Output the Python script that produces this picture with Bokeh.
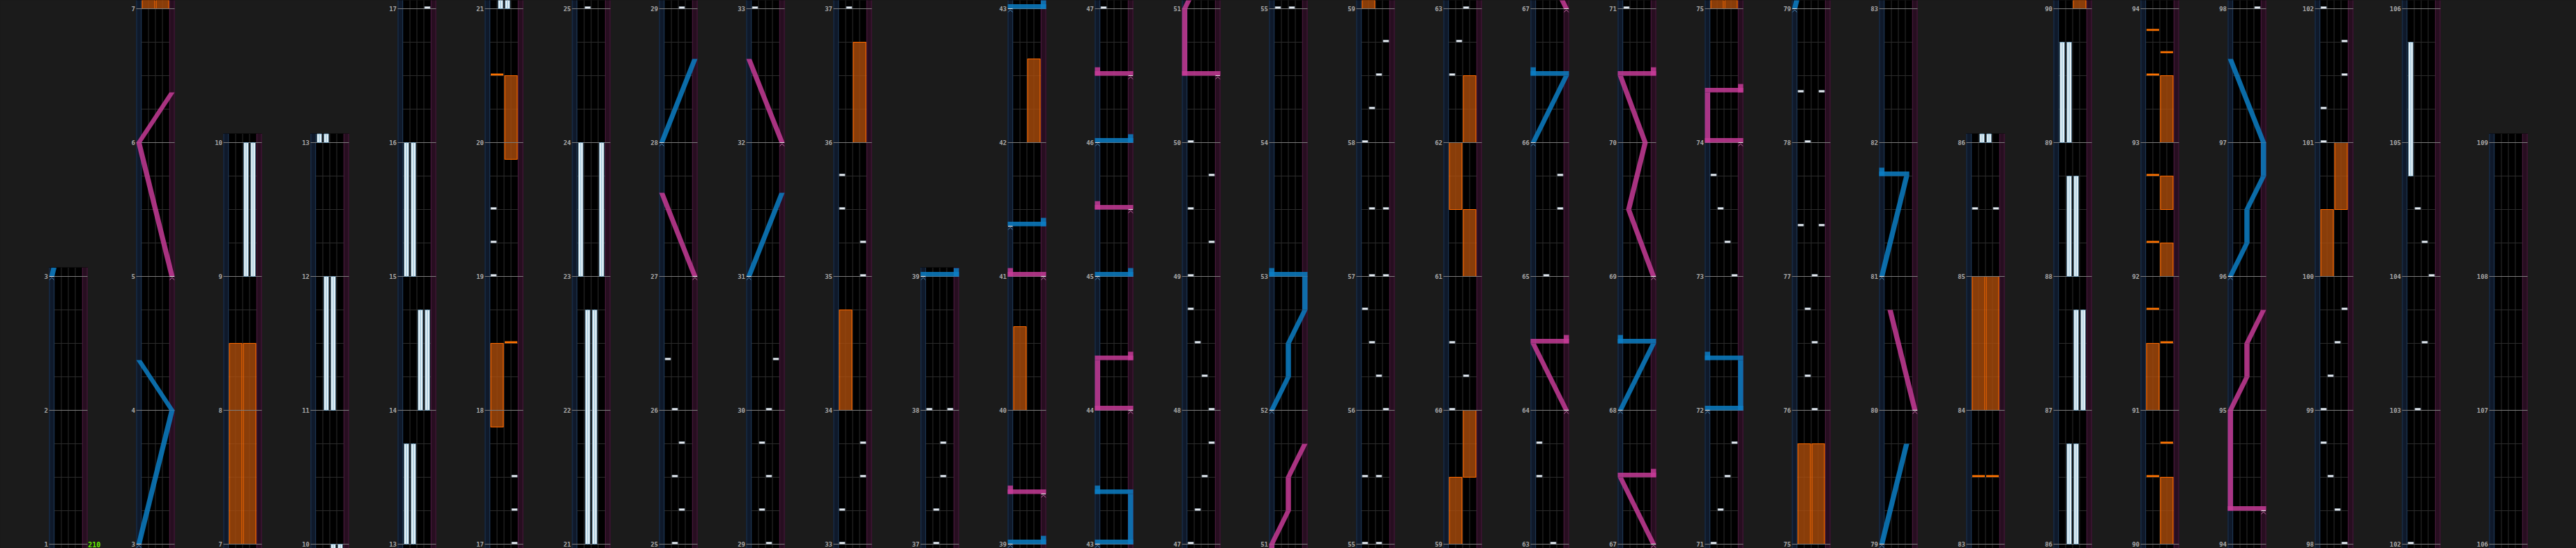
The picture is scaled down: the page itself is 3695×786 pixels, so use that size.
from bokeh.plotting import figure
from bokeh.models import Range1d, GlobalInlineStyleSheet
from bokeh.embed import file_html
from bokeh.resources import INLINE
from bokeh.core.properties import value

# ------------------------------------------------------------------ data
# first measure shown in each column of the chart (columns read left to right)
COLUMN_FIRST_MEASURE = [1, 3, 7, 10, 13, 17, 21, 25, 29, 33, 37, 39, 43, 47, 51, 55,
                        59, 63, 67, 71, 75, 79, 83, 86, 90, 94, 98, 102, 106]
LAST_MEASURE = 108

BPM_T = [1]
BPM_TEXT = ["210"]

# BT chips: (time in measures, lane)
BT_CHIPS = [
    (17, "D"), (17.25, "D"), (17.5, "D"),
    (19, "A"), (19.25, "A"), (19.5, "A"),
    (25, "B"), (25.25, "C"), (25.5, "B"), (25.75, "C"), (26, "B"), (26.375, "A"),
    (29, "C"), (29.25, "B"), (29.5, "C"), (29.75, "B"), (30, "C"), (30.375, "D"),
    (33, "A"), (33.25, "A"), (33.5, "D"), (33.75, "D"),
    (35, "D"), (35.25, "D"), (35.5, "A"), (35.75, "A"),
    (37, "B"), (37.25, "B"), (37.5, "C"), (37.75, "C"), (38, "A"), (38, "D"),
    (47, "A"), (47.25, "B"), (47.5, "C"), (47.75, "D"), (48, "D"), (48.25, "C"),
    (48.5, "B"), (48.75, "A"), (49, "A"), (49.25, "D"), (49.5, "A"), (49.75, "D"), (50, "A"),
    (55, "A"), (55, "C"), (55.5, "A"), (55.5, "C"),
    (56, "D"), (56.25, "C"), (56.5, "B"), (56.75, "A"),
    (57, "B"), (57, "D"), (57.5, "B"), (57.5, "D"),
    (58, "A"), (58.25, "B"), (58.5, "C"), (58.75, "D"),
    (60, "A"), (60.25, "C"), (60.5, "A"),
    (62.5, "A"), (62.75, "B"), (63, "C"), (63.5, "A"), (63.75, "A"),
    (65, "B"), (65.5, "D"), (65.75, "D"),
    (71, "A"), (71.25, "B"), (71.5, "C"), (71.75, "D"),
    (73, "D"), (73.25, "C"), (73.5, "B"), (73.75, "A"),
    (76, "C"), (76.25, "B"), (76.5, "C"), (76.75, "B"), (77, "C"),
    (77.375, "A"), (77.375, "D"), (78, "B"), (78.375, "A"), (78.375, "D"),
    (85.5, "A"), (85.5, "D"),
    (98, "D"), (98.25, "C"), (98.5, "B"), (98.75, "A"), (99, "A"), (99.25, "B"),
    (99.5, "C"), (99.75, "D"),
    (101, "A"), (101.25, "A"), (101.5, "D"), (101.75, "D"), (102, "A"),
    (103, "B"), (103.5, "C"), (104, "D"), (104.25, "C"), (104.5, "B"),
]

# BT holds: (start, end, lane)
BT_HOLDS = [
    (9, 10, "C"), (9, 10, "D"),
    (11, 12, "B"), (11, 12, "C"),
    (13, 13.75, "A"), (13, 13.75, "B"),
    (14, 14.75, "C"), (14, 14.75, "D"),
    (15, 16, "A"), (15, 16, "B"),
    (21, 22.75, "B"), (21, 22.75, "C"),
    (23, 24, "A"), (23, 24, "D"),
    (86, 86.75, "B"), (86, 86.75, "C"),
    (87, 87.75, "C"), (87, 87.75, "D"),
    (88, 88.75, "B"), (88, 88.75, "C"),
    (89, 89.75, "A"), (89, 89.75, "B"),
    (104.75, 105.75, "A"),
]

# FX chips: (time, side)
FX_CHIPS = [
    (18.5, "R"), (20.5, "L"), (83.5, "L"), (83.5, "R"),
    (90.5, "L"), (90.75, "R"), (91.5, "R"), (91.75, "L"), (92.25, "L"), (92.75, "L"),
    (93.5, "L"), (93 + 2 / 3, "R"), (93 + 5 / 6, "L"),
]

# FX holds: (start, end, side)
FX_HOLDS = [
    (7, 8.5, "L"), (7, 8.5, "R"),
    (17.875, 18.5, "L"), (19.875, 20.5, "R"),
    (34, 34.75, "L"), (36, 36.75, "R"),
    (40, 40.625, "L"), (42, 42.625, "R"),
    (59, 59.5, "L"), (59.5, 60, "R"), (61, 61.5, "R"), (61.5, 62, "L"), (62, 62.5, "R"),
    (75, 75.75, "L"), (75, 75.75, "R"),
    (84, 85, "L"), (84, 85, "R"),
    (90, 90.5, "R"), (91, 91.5, "L"), (92, 92.25, "R"), (92.5, 92.75, "R"), (93, 93.5, "R"),
    (100, 100.5, "L"), (100.5, 101, "R"),
]

# lasers: lists of (time, position 0..1); equal times = slam
LASER_LEFT = [
    [(3, 0), (4, 1), (4.375, 0)],
    [(28, 0), (28.625, 1)],
    [(31, 0), (31.625, 1)],
    [(39, 0), (39, 1)],
    [(41.375, 0), (41.375, 1)],
    [(43, 0), (43, 1), (43.375, 1), (43.375, 0)],
    [(45, 0), (45, 1)],
    [(46, 0), (46, 1)],
    [(52, 0), (52.25, 0.5), (52.5, 0.5), (52.75, 1), (53, 1), (53, 0)],
    [(66, 0), (66.5, 1), (66.5, 0)],
    [(68, 0), (68.5, 1), (68.5, 0)],
    [(72, 0), (72, 1), (72.375, 1), (72.375, 0)],
    [(79, 0), (79.75, 0.75)],
    [(81, 0), (81.75, 0.75), (81.75, 0)],
    [(96, 0), (96.25, 0.5), (96.5, 0.5), (96.75, 1), (97, 1), (97.625, 0)],
]
LASER_RIGHT = [
    [(5, 1), (6, 0), (6.375, 1)],
    [(27, 1), (27.625, 0)],
    [(32, 1), (32.625, 0)],
    [(39.375, 1), (39.375, 0)],
    [(41, 1), (41, 0)],
    [(44, 1), (44, 0), (44.375, 0), (44.375, 1)],
    [(45.5, 1), (45.5, 0)],
    [(46.5, 1), (46.5, 0)],
    [(50.5, 1), (50.5, 0), (51, 0), (51.25, 0.5), (51.5, 0.5), (51.75, 1)],
    [(64, 1), (64.5, 0), (64.5, 1)],
    [(67, 1), (67.5, 0), (67.5, 1)],
    [(69, 1), (69.5, 0.25), (70, 0.75), (70.5, 0), (70.5, 1)],
    [(74, 1), (74, 0), (74.375, 0), (74.375, 1)],
    [(80, 1), (80.75, 0.25)],
    [(94.25, 1), (94.25, 0), (95, 0), (95.25, 0.5), (95.5, 0.5), (95.75, 1)],
]

# ------------------------------------------------------------------ style / layout
BG = "#1b1b1b"
PX = 1.0 / 192            # one screen pixel in measure units (vertical)
COL_X0, COL_STEP, COL_W = 70, 125, 55
LASER_W, LANE_W = 7.5, 10.0
HW = LASER_W / 2
EXT = 12.5 * PX
LANES = "ABCD"
W, H = 3695, 786
Y_LO, Y_HI = -6 * PX, 780 * PX     # visible range (measures above column bottom)

p = figure(width=W, height=H,
           x_range=Range1d(0, W),
           y_range=Range1d(Y_LO, Y_HI),
           x_axis_type=None, y_axis_type=None,
           output_backend="svg", toolbar_location=None, min_border=0,
           background_fill_color=BG, border_fill_color=BG, outline_line_color=None)
p.stylesheets = [GlobalInlineStyleSheet(
    css="html, body { margin: 0; padding: 0; overflow: hidden; background-color: #1b1b1b; }")]

cols = []
for k, b in enumerate(COLUMN_FIRST_MEASURE):
    top = COLUMN_FIRST_MEASURE[k + 1] if k + 1 < len(COLUMN_FIRST_MEASURE) else LAST_MEASURE + 1
    L = COL_X0 + COL_STEP * k
    cols.append((b, top, L, b - 10 * PX, top + EXT))


def lane_left(L, lane):
    return L + LASER_W + LANE_W * LANES.index(lane)


def lx(L, pos):
    return L + HW + pos * (COL_W - LASER_W)


def label_y(y, ascent, descent):
    # keep a label's whole text box inside the frame
    return min(max(y, Y_LO + (descent + 1) * PX), Y_HI - (ascent + 1) * PX)


# ---- column backgrounds
bgq = dict(left=[], right=[], bottom=[], top=[], color=[])
vseg = dict(x0=[], y0=[], x1=[], y1=[], color=[])
beat = dict(x0=[], y0=[], x1=[], y1=[])
meas = dict(x0=[], y0=[], x1=[], y1=[])
lab = dict(x=[], y=[], text=[])
for (b, top, L, tmin, tmax) in cols:
    ttop = top - b + EXT
    for l, r, c in [(L, L + COL_W, "#000000"), (L, L + LASER_W, "#0f192a"),
                    (L + COL_W - LASER_W, L + COL_W, "#270e20")]:
        bgq["left"].append(l); bgq["right"].append(r)
        bgq["bottom"].append(-10 * PX); bgq["top"].append(ttop); bgq["color"].append(c)
    for x, c in [(L + 0.5, "#1c3550"), (L + LASER_W - 0.5, "#1c3550"),
                 (L + COL_W - LASER_W + 0.5, "#46183a"), (L + COL_W - 0.5, "#46183a"),
                 (L + LASER_W + LANE_W, "#2c2c2c"), (L + LASER_W + 2 * LANE_W, "#2c2c2c"),
                 (L + LASER_W + 3 * LANE_W, "#2c2c2c")]:
        vseg["x0"].append(x); vseg["x1"].append(x)
        vseg["y0"].append(-10 * PX); vseg["y1"].append(ttop); vseg["color"].append(c)
    for m in range(b, top):
        for q in (0.25, 0.5, 0.75):
            beat["x0"].append(L + LASER_W); beat["x1"].append(L + COL_W - LASER_W)
            beat["y0"].append(m - b + q); beat["y1"].append(m - b + q)
    for m in range(b, top + 1):
        meas["x0"].append(L); meas["x1"].append(L + COL_W)
        meas["y0"].append(m - b); meas["y1"].append(m - b)
        lab["x"].append(L - 1.5); lab["y"].append(label_y(m - b, 9, 2.5))
        lab["text"].append(str(m))

p.quad(left="left", right="right", bottom="bottom", top="top", color="color", source=bgq)
p.segment(x0="x0", y0="y0", x1="x1", y1="y1", line_color="color", line_width=1, source=vseg)
p.segment(x0="x0", y0="y0", x1="x1", y1="y1", line_color="#2c2c2c", line_width=1, source=beat)


def clip(t0, t1, c):
    b, top, L, tmin, tmax = c
    lo, hi = max(t0, tmin), min(t1, tmax)
    return (lo - b, hi - b) if hi > lo else None


# ---- FX holds
fxh = dict(left=[], right=[], bottom=[], top=[])
for t0, t1, side in FX_HOLDS:
    for c in cols:
        r = clip(t0, t1, c)
        if r:
            L = c[2]
            x0 = L + LASER_W + (0 if side == "L" else 2 * LANE_W)
            fxh["left"].append(x0 + 1); fxh["right"].append(x0 + 2 * LANE_W - 1)
            fxh["bottom"].append(r[0]); fxh["top"].append(r[1])
p.quad(left="left", right="right", bottom="bottom", top="top", source=fxh,
       fill_color="#b04e0c", fill_alpha=0.78, line_color="#ff6a00", line_width=1.2)

p.segment(x0="x0", y0="y0", x1="x1", y1="y1", line_color="#7c7c7c", line_width=1, source=meas)

# ---- BT holds
bth = dict(left=[], right=[], bottom=[], top=[])
bts = dict(left=[], right=[], bottom=[], top=[])
for t0, t1, lane in BT_HOLDS:
    for c in cols:
        r = clip(t0, t1, c)
        if r:
            x0 = lane_left(c[2], lane)
            bth["left"].append(x0 + 1.7); bth["right"].append(x0 + LANE_W - 1.7)
            bth["bottom"].append(r[0]); bth["top"].append(r[1])
            xc = x0 + LANE_W / 2
            bts["left"].append(xc - 0.8); bts["right"].append(xc + 0.8)
            bts["bottom"].append(r[0]); bts["top"].append(r[1])
p.quad(left="left", right="right", bottom="bottom", top="top", source=bth,
       fill_color="#eef8fc", line_color="#5d8cab", line_width=0.9)
p.quad(left="left", right="right", bottom="bottom", top="top", source=bts,
       fill_color="#a4c9dc", line_color=None)

# ---- chips
btc = dict(left=[], right=[], bottom=[], top=[])
for t, lane in BT_CHIPS:
    for c in cols:
        b, top, L, tmin, tmax = c
        if tmin <= t <= tmax:
            x0 = lane_left(L, lane)
            btc["left"].append(x0 + 1); btc["right"].append(x0 + LANE_W - 1)
            btc["bottom"].append(t - b + 0.3 * PX); btc["top"].append(t - b + 3 * PX)
p.quad(left="left", right="right", bottom="bottom", top="top", source=btc,
       fill_color="#f4f6f8", line_color="#8d9cab", line_width=0.8)

fxc = dict(left=[], right=[], bottom=[], top=[])
for t, side in FX_CHIPS:
    for c in cols:
        b, top, L, tmin, tmax = c
        if tmin <= t <= tmax:
            x0 = L + LASER_W + (0 if side == "L" else 2 * LANE_W)
            fxc["left"].append(x0 + 1); fxc["right"].append(x0 + 2 * LANE_W - 1)
            fxc["bottom"].append(t - b + 0.2 * PX); fxc["top"].append(t - b + 3 * PX)
p.quad(left="left", right="right", bottom="bottom", top="top", source=fxc,
       fill_color="#ff7300", line_color=None)


# ---- lasers
def draw_lasers(lasers, color, mark_color):
    ribbons_x, ribbons_y = [], []
    bars = dict(left=[], right=[], bottom=[], top=[])
    marks_x, marks_y, starts = [], [], dict(x0=[], y0=[], x1=[], y1=[])
    for pts in lasers:
        for c in cols:
            b, top, L, tmin, tmax = c
            for (ta, pa), (tb, pb) in zip(pts[:-1], pts[1:]):
                if ta == tb:
                    if tmin <= ta <= tmax:
                        xa, xb = lx(L, pa), lx(L, pb)
                        bars["left"].append(min(xa, xb) - HW)
                        bars["right"].append(max(xa, xb) + HW)
                        bars["bottom"].append(ta - b); bars["top"].append(ta - b + 6.6 * PX)
                else:
                    lo, hi = max(ta, tmin), min(tb, tmax)
                    if hi > lo:
                        plo = pa + (pb - pa) * (lo - ta) / (tb - ta)
                        phi = pa + (pb - pa) * (hi - ta) / (tb - ta)
                        x0, x1 = lx(L, plo), lx(L, phi)
                        ribbons_x.append([x0 - HW, x0 + HW, x1 + HW, x1 - HW])
                        ribbons_y.append([lo - b, lo - b, hi - b, hi - b])
            # end block after a final slam
            (te, pe), (tp, pp) = pts[-1], pts[-2]
            if te == tp and tmin <= te <= tmax:
                xe = lx(L, pe)
                bars["left"].append(xe - HW); bars["right"].append(xe + HW)
                bars["bottom"].append(te - b); bars["top"].append(te - b + 12 * PX)
            # start marker
            ts, ps = pts[0]
            if tmin <= ts <= tmax:
                xs = lx(L, ps)
                starts["x0"].append(xs - HW + 0.5); starts["x1"].append(xs + HW - 0.5)
                starts["y0"].append(ts - b); starts["y1"].append(ts - b)
                marks_x.append([xs - 3.2, xs, xs + 3.2])
                marks_y.append([ts - b - 5 * PX, ts - b - 1.5 * PX, ts - b - 5 * PX])
    p.patches(xs=ribbons_x, ys=ribbons_y, fill_color=color, fill_alpha=0.85, line_color=None)
    p.quad(left="left", right="right", bottom="bottom", top="top", source=bars,
           fill_color=color, fill_alpha=0.85, line_color=None)
    p.segment(x0="x0", y0="y0", x1="x1", y1="y1", source=starts,
              line_color="#e8e8e8", line_width=1.2)
    p.multi_line(xs=marks_x, ys=marks_y, line_color=mark_color, line_width=1)


draw_lasers(LASER_LEFT, "#0c7ec4", "#4a86b4")
draw_lasers(LASER_RIGHT, "#c63b96", "#c468a4")

# ---- labels
p.text(x="x", y="y", text="text", source=lab, text_font=value("DejaVu Sans Mono"),
       text_font_style="bold", text_font_size="9px", text_color="#a8a8a8",
       text_align="right", text_baseline="alphabetic")

bpm = dict(x=[], y=[], text=[])
for t, s in zip(BPM_T, BPM_TEXT):
    for c in cols:
        b, top, L, tmin, tmax = c
        if b <= t < top:
            bpm["x"].append(L + COL_W + 0.7); bpm["y"].append(label_y(t - b, 10, 2.5))
            bpm["text"].append(s)
p.text(x="x", y="y", text="text", source=bpm, text_font=value("DejaVu Sans Mono"),
       text_font_style="bold", text_font_size="10px", text_color="#66ee00",
       text_align="left", text_baseline="alphabetic")

open("out.html", "w").write(file_html(p, INLINE))
